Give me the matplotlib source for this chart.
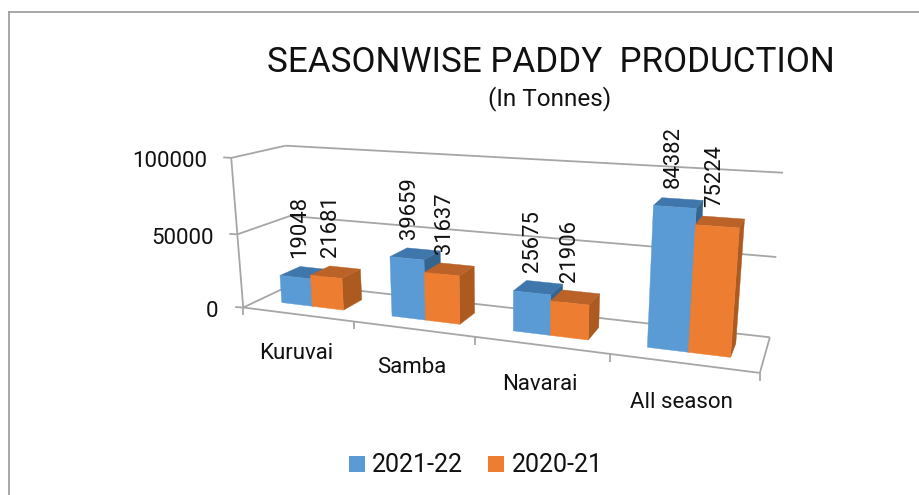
import numpy as np
import matplotlib
matplotlib.use("Agg")
import matplotlib.pyplot as plt
from matplotlib.patches import Polygon, Rectangle

plt.rcParams['font.family'] = ['Roboto', 'DejaVu Sans']

categories = ['Kuruvai', 'Samba', 'Navarai', 'All season']
series_names = ['2021-22', '2020-21']
values_2122 = [19048, 39659, 25675, 84382]
values_2021 = [21681, 31637, 21906, 75224]
y_ticks = [0, 50000, 100000]

colors = ['#5B9BD5', '#ED7D31']
top_colors = ['#3F76AB', '#BA6227']
side_colors = ['#35658F', '#AC5A1F']
grid_col = '#A6A6A6'

# box corners (category pos, depth, value) -> pixel, used to fit the 3d view
box = [(0, 0, 0, 244, 307), (0, 0, 50000, 237, 235), (0, 0, 100000, 231, 158),
       (0, 1, 0, 294, 284), (0, 1, 50000, 290, 216), (0, 1, 100000, 286, 145),
       (4, 1, 0, 770, 337), (4, 1, 50000, 776, 257), (4, 1, 100000, 783, 173),
       (4, 0, 0, 760, 373), (1, 0, 0, 353, 321), (3, 0, 0, 610, 354)]

A = []
b = []
for cx, d, v, px, py in box:
    v = v / 100000.0
    A.append([cx, d, v, 1, 0, 0, 0, 0, -px*cx, -px*d, -px*v])
    b.append(px)
    A.append([0, 0, 0, 0, cx, d, v, 1, -py*cx, -py*d, -py*v])
    b.append(py)
h = np.linalg.lstsq(np.array(A, float), np.array(b, float), rcond=None)[0]
P = np.append(h, 1.0).reshape(3, 4)


def proj(cx, d, v):
    w = P @ np.array([cx, d, v / 100000.0, 1.0])
    return w[0] / w[2], w[1] / w[2]


fig = plt.figure(figsize=(9.19, 4.95), dpi=100)
ax = fig.add_axes([0, 0, 1, 1])
ax.set_xlim(0, 919)
ax.set_ylim(495, 0)
ax.axis('off')

# chart frame, only top and left show in the crop
ax.plot([9, 919], [12, 12], color='#A0A0A0', lw=1.3)
ax.plot([9, 9], [12, 495], color='#A0A0A0', lw=1.3)


def line(p, q, **kw):
    ax.plot([p[0], q[0]], [p[1], q[1]], color=grid_col, lw=1.3, solid_capstyle='butt', **kw)


n = len(categories)
for t in y_ticks:
    line(proj(0, 0, t), proj(0, 1, t))
    line(proj(0, 1, t), proj(n, 1, t))
    p = proj(0, 0, t)
    line(p, (p[0] - 8, p[1] - 0.5))
line(proj(0, 0, 0), proj(0, 0, y_ticks[-1]))
line(proj(n, 1, 0), proj(n, 0, 0))
line(proj(0, 0, 0), proj(n, 0, 0))
for i in range(n + 1):
    p = proj(i, 0, 0)
    line(p, (p[0], p[1] + 8))

# y labels
for t, off in zip(y_ticks, [25, 24, 24]):
    p = proj(0, 0, t)
    ax.text(p[0] - off, p[1] + 4, str(t), ha='right', va='center', fontsize=16, color='#111111')

bw = 2 / 7.0      # gap width 150%
d0, d1 = 0.3, 0.7
series = [values_2122, values_2021]


def face(pts, col):
    # zorder above the grid lines, below the text
    ax.add_patch(Polygon([proj(*q) for q in pts], closed=True, fc=col, ec=col, lw=0.3, zorder=2.5))


for i in range(n):
    for s, vals in enumerate(series):
        v = vals[i]
        x0 = i + 1.5 / 7 + s * bw
        x1 = x0 + bw
        face([(x1, d0, 0), (x1, d1, 0), (x1, d1, v), (x1, d0, v)], side_colors[s])
        face([(x0, d0, v), (x1, d0, v), (x1, d1, v), (x0, d1, v)], top_colors[s])
        face([(x0, d0, 0), (x1, d0, 0), (x1, d0, v), (x0, d0, v)], colors[s])

# data labels sit above the bar top
for i in range(n):
    for s, vals in enumerate(series):
        x0 = i + 1.5 / 7 + s * bw
        p = proj(x0 + bw / 2, 0.5, vals[i])
        ax.text(p[0] - 5.5, p[1] - 15, str(vals[i]), rotation=90, ha='center', va='bottom',
                fontsize=15.8, color='#111111')

for i, c in enumerate(categories):
    p = proj(i + 0.5, 0, 0)
    ax.text(p[0] - 1, p[1] + 39, c, ha='center', va='center', fontsize=16, color='#111111')

ax.text(551, 62, 'SEASONWISE PADDY  PRODUCTION', ha='center', va='center', fontsize=25.2, color='#111111')
ax.text(550, 99, '(In Tonnes)', ha='center', va='center', fontsize=17.5, color='#111111')

# legend
for x, x_t, name, col in zip([349, 488], [372, 512], series_names, colors):
    ax.add_patch(Rectangle((x, 456), 16, 16, fc=col, ec='none'))
    ax.text(x_t, 465.5, name, ha='left', va='center', fontsize=18, color='#111111')

fig.savefig('out.png', dpi=100)
